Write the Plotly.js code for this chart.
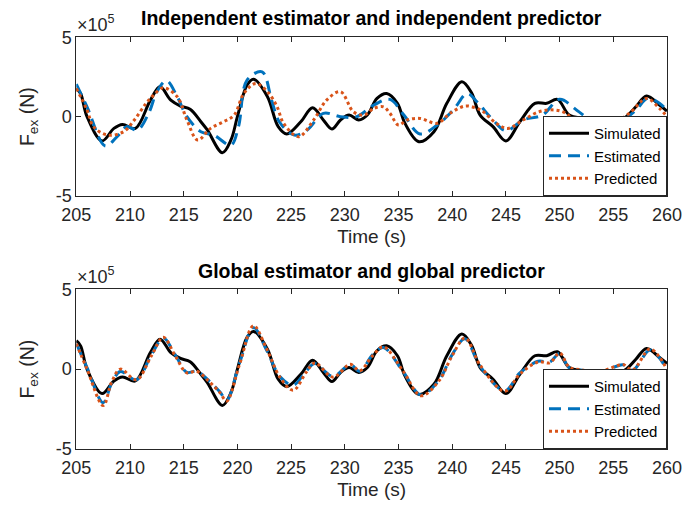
<!DOCTYPE html>
<html>
<head>
<meta charset="utf-8">
<script src="https://cdn.plot.ly/plotly-3.0.1.min.js"></script>
<style>html,body{margin:0;padding:0;background:#fff;}#chart{width:697px;height:506px;}</style>
</head>
<body>
<div id="chart"></div>
<script>
// Values in units of 1e5 N
var simT = [205, 205.4, 206.0, 207.4, 208.5, 209.3, 210.5, 211.9, 212.8, 213.8, 214.7, 215.6, 216.6, 217.2, 218.6, 219.4, 220.0, 220.9, 221.5, 222.8, 223.8, 224.6, 225.9, 227.0, 228.0, 228.8, 229.6, 230.4, 231.3, 232.1, 233.0, 233.9, 234.9, 235.6, 236.9, 238.3, 239.5, 240.9, 241.8, 242.6, 243.8, 245.0, 246.3, 247.7, 248.8, 249.8, 250.9, 252.3, 253.5, 254.6, 256.2, 257.1, 258.1, 259.3, 260];
var simV = [1.78, 1.46, 0, -1.53, -0.74, -0.49, -0.74, 1.04, 1.88, 1.04, 0.67, 0.46, -0.32, -0.84, -2.27, -1.47, 0, 1.99, 2.36, 1.25, -0.63, -1.09, -0.32, 0.56, -0.21, -0.78, -0.21, 0.1, -0.21, 0.1, 1.15, 1.46, 0.84, -0.42, -1.58, -0.95, 0.84, 2.2, 1.5, 0.1, -0.63, -1.53, -0.32, 0.84, 0.84, 1.09, 0.1, -0.11, -0.3, -0.42, 0, 0.62, 1.3, 0.73, 0.35];

var indEstT = [205, 206, 207.7, 208.8, 209.7, 210.7, 211.8, 212.5, 213.4, 214.4, 215.3, 216.6, 217.8, 219.4, 220.1, 220.9, 222.3, 223.2, 223.9, 225.3, 226.5, 228.0, 229.6, 231.1, 232.7, 234.2, 235.5, 237.0, 238.6, 240.1, 241.4, 242.3, 243.8, 245.0, 246.6, 248.4, 250.0, 251.6, 253.1, 254.5, 255.9, 257.1, 258.2, 259.3, 260];
var indEstV = [2.05, 0.62, -1.85, -1.26, -0.63, -0.84, 0.31, 1.57, 2.26, 1.25, 0, -0.95, -1.16, -1.79, -0.63, 2.3, 2.82, 1.0, -0.32, -1.16, -0.84, 0.21, 0, 0, 0.73, 1.09, 0.1, -1.09, -0.53, 0.42, 1.46, 0.94, -0.21, -0.88, -0.21, 0.1, 1.09, 0.41, -0.32, -0.5, -0.21, 0.41, 1.15, 0.84, 0.4];

var indPredT = [205, 206, 206.6, 207.9, 209.4, 210.4, 211.5, 212.2, 213.1, 214.4, 215.3, 216.3, 217.5, 218.7, 219.7, 220.6, 221.7, 222.8, 223.7, 224.3, 225.7, 227.1, 228.3, 229.6, 230.8, 231.8, 232.7, 233.6, 234.2, 235.0, 235.8, 237.0, 238.6, 239.8, 241.2, 242.3, 242.9, 244.1, 245.2, 246.6, 248.1, 249.5, 250.6, 251.6, 253.3, 254.9, 256.5, 258.1, 259.3, 260];
var indPredV = [1.78, 0.42, -0.63, -1.16, -0.95, -0.21, 0.84, 1.36, 1.82, 1.25, -0.21, -1.47, -0.74, -0.32, 0.1, 1.46, 2.09, 1.57, 0.62, -0.42, -1.26, -0.21, 1.04, 1.57, 0.31, 0.1, 0.52, 0.62, 0.21, -0.53, -0.21, -0.11, -0.42, 0.21, 0.67, 0.52, 0.31, -0.42, -0.74, -0.21, 0.31, 0.42, 0.21, -0.42, -0.6, -0.42, 0.21, 1.15, 0.52, 0.0];

var glT = [205, 206, 207.5, 208.3, 209.1, 210.6, 212, 213.1, 214.2, 215.3, 216.2, 217.4, 218.4, 219.0, 220.2, 221.5, 222.7, 224.0, 225.2, 226.4, 227.2, 228.9, 230.5, 231.4, 232.6, 233.6, 235.4, 237.1, 238.8, 240, 241.2, 242.6, 244.9, 246.3, 248.0, 249.1, 250.0, 250.9, 252.1, 253.5, 255.3, 255.9, 256.8, 258.4, 259.3, 260];
var glEstV = [1.6, 0.1, -2.1, -0.87, -0.15, -0.66, 0.91, 1.95, 0.91, -0.2, -0.13, -0.76, -1.45, -1.95, 0.39, 2.6, 1.22, -0.5, -1.0, -0.13, 0.35, -0.45, 0.28, -0.13, 0.91, 1.35, -0.13, -1.62, -0.66, 0.91, 1.9, 0.18, -1.35, -0.24, 0.49, 0.45, 0.98, 0.08, -0.07, -0.25, 0.18, 0.28, -0.07, 1.2, 0.7, -0.1];
var glPredV = [1.6, 0.0, -2.28, -0.8, 0.0, -0.66, 0.85, 2.0, 0.85, -0.24, -0.13, -0.8, -1.49, -2.0, 0.3, 2.72, 1.3, -0.55, -1.32, -0.2, 0.39, -0.5, 0.3, -0.1, 0.85, 1.39, -0.1, -1.66, -0.7, 0.85, 1.95, 0.25, -1.38, -0.3, 0.45, 0.4, 1.01, 0.12, -0.05, -0.2, 0.2, 0.3, -0.05, 1.26, 0.75, -0.05];

var seriesNames = ['Simulated', 'Estimated', 'Predicted'];
var titles = ['Independent estimator and independent predictor', 'Global estimator and global predictor'];
var xTicks = [205, 210, 215, 220, 225, 230, 235, 240, 245, 250, 255, 260];
var yTicks = [-5, 0, 5];
var yTickText = ['-5', '0', '5'];

var FONT = 'Liberation Sans, Arial, Helvetica, sans-serif';
var AX = '#262626';
var W = 697, H = 506;

function mk(x, y, name, color, dash, xa, ya, leg) {
  return {x: x, y: y, name: name, type: 'scatter', mode: 'lines', xaxis: xa, yaxis: ya,
    legend: leg, showlegend: true,
    line: {color: color, width: 3, dash: dash, shape: 'spline', smoothing: 1}};
}
var data = [
  mk(simT, simV, seriesNames[0], '#000000', 'solid', 'x', 'y', 'legend'),
  mk(indEstT, indEstV, seriesNames[1], '#0072BD', '12px,7px', 'x', 'y', 'legend'),
  mk(indPredT, indPredV, seriesNames[2], '#D95319', 'dot', 'x', 'y', 'legend'),
  mk(simT, simV, seriesNames[0], '#000000', 'solid', 'x2', 'y2', 'legend2'),
  mk(glT, glEstV, seriesNames[1], '#0072BD', '12px,7px', 'x2', 'y2', 'legend2'),
  mk(glT, glPredV, seriesNames[2], '#D95319', 'dot', 'x2', 'y2', 'legend2')
];

var xd = [76.3 / W, 667 / W];
var y1d = [(H - 196) / H, (H - 37.3) / H];
var y2d = [(H - 449) / H, (H - 289.3) / H];

function xax(anchor) {
  return {domain: xd, anchor: anchor, range: [205, 260], tickvals: xTicks, ticks: 'inside', ticklen: 5,
    tickcolor: AX, tickwidth: 1, mirror: 'ticks', showline: true, linecolor: AX, linewidth: 1,
    showgrid: false, zeroline: false, tickfont: {family: FONT, size: 18, color: AX}, ticklabelstandoff: 2,
    title: {text: 'Time (s)', font: {family: FONT, size: 19, color: AX}, standoff: 6}};
}
function yax(anchor, dom) {
  return {domain: dom, anchor: anchor, range: [-5, 5], tickvals: yTicks, ticktext: yTickText, ticks: 'inside', ticklen: 5,
    tickcolor: AX, tickwidth: 1, mirror: 'ticks', showline: true, linecolor: AX, linewidth: 1,
    showgrid: false, zeroline: false, tickfont: {family: FONT, size: 18, color: AX},
    title: {text: 'F<sub>ex</sub> (N)', font: {family: FONT, size: 19.5, color: AX}, standoff: 15}};
}
function legendAt(ybottom) {
  return {x: 667 / W, y: ybottom, xanchor: 'right', yanchor: 'bottom', bgcolor: '#ffffff',
    bordercolor: AX, borderwidth: 1, font: {family: FONT, size: 15, color: '#000'},
    itemwidth: 40, tracegroupgap: 0};
}

var layout = {
  width: W, height: H, margin: {l: 0, r: 0, t: 0, b: 0}, paper_bgcolor: '#fff', plot_bgcolor: '#fff',
  xaxis: xax('y'), yaxis: yax('x', y1d),
  xaxis2: xax('y2'), yaxis2: yax('x2', y2d),
  legend: legendAt(y1d[0]), legend2: legendAt(y2d[0]),
  annotations: [
    {text: '<b>' + titles[0] + '</b>', xref: 'paper', yref: 'paper', x: (xd[0] + xd[1]) / 2, y: (H - 18) / H,
      xanchor: 'center', yanchor: 'middle', showarrow: false, font: {family: FONT, size: 19.5, color: '#000'}},
    {text: '<b>' + titles[1] + '</b>', xref: 'paper', yref: 'paper', x: (xd[0] + xd[1]) / 2, y: (H - 271) / H,
      xanchor: 'center', yanchor: 'middle', showarrow: false, font: {family: FONT, size: 19.5, color: '#000'}},
    {text: '×10<sup>5</sup>', xref: 'paper', yref: 'paper', x: 75 / W, y: y1d[1], xanchor: 'left', yanchor: 'bottom',
      showarrow: false, font: {family: FONT, size: 18, color: AX}},
    {text: '×10<sup>5</sup>', xref: 'paper', yref: 'paper', x: 75 / W, y: y2d[1], xanchor: 'left', yanchor: 'bottom',
      showarrow: false, font: {family: FONT, size: 18, color: AX}}
  ]
};

Plotly.newPlot('chart', data, layout, {staticPlot: true, displayModeBar: false});
</script>
</body>
</html>
